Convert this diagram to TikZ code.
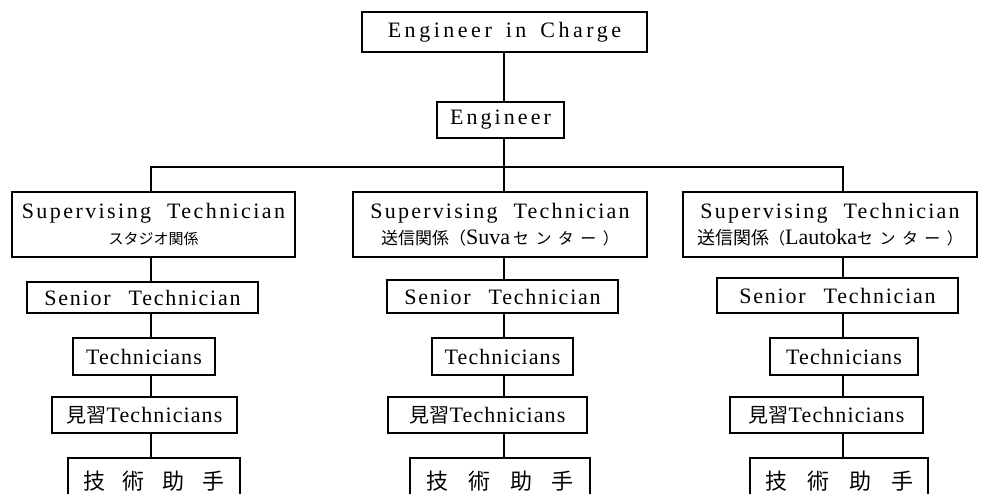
\documentclass[tikz,border=0pt]{standalone}
\usepackage{fontspec}
\setmainfont{Liberation Serif}
\newfontfamily\jp{Noto Sans CJK JP}
\newcommand{\LS}[1]{\addfontfeature{LetterSpace=#1}}
\begin{document}
\begin{tikzpicture}[x=1pt,y=-1pt,
  box/.style={draw=black, line width=1.4pt, inner sep=0pt, align=center,
              font=\fontsize{22}{29}\selectfont},
  conn/.style={draw=black, line width=1.5pt}]
\useasboundingbox (0,0) rectangle (985,493);
\clip (0,0) rectangle (985,493);
% column coordinates
\coordinate (hub) at (504,167);
\coordinate (hL) at (151,167);
\coordinate (hR) at (843,167);
% top
\node[box, minimum width=285pt, minimum height=40pt] (eic) at (504.5,32)
  {\LS{16}Engineer\hspace{14pt}in\hspace{14pt}Charge};
\node[box, minimum width=127pt, minimum height=36pt] (eng) at (500.5,120)
  {\LS{14}Engineer};
% supervising
\node[box, minimum width=283pt, minimum height=65pt] (supL) at (153.5,224.5)
  {\LS{11}Supervising\hspace{16pt}Technician\\[-3pt]
   {\jp\fontsize{15}{16}\selectfont スタジオ関係\hspace{30pt}}};
\node[box, minimum width=294pt, minimum height=65pt] (supM) at (500,224.5)
  {\LS{10}Supervising\hspace{16pt}Technician\\[-3pt]
   {\jp\fontsize{17}{18}\selectfont 送信関係（}Suva\hspace{3pt}{\jp\fontsize{16}{18}\selectfont\addfontfeature{LetterSpace=40}センター）}};
\node[box, minimum width=294pt, minimum height=65pt] (supR) at (830,224.5)
  {\LS{10}Supervising\hspace{16pt}Technician\\[-3pt]
   {\jp\fontsize{18}{18}\selectfont 送信関係}{\jp\fontsize{16}{18}\selectfont（}Lautoka{\jp\fontsize{16}{18}\selectfont\addfontfeature{LetterSpace=40}センター）}};
% senior
\node[box, minimum width=231pt, minimum height=31pt] (senL) at (142.5,297.5)
  {\LS{8}Senior\hspace{18pt}Technician};
\node[box, minimum width=231pt, minimum height=33pt] (senM) at (502.5,296.5)
  {\LS{8}Senior\hspace{18pt}Technician};
\node[box, minimum width=241pt, minimum height=35pt] (senR) at (837.5,295.5)
  {\LS{8}Senior\hspace{18pt}Technician};
% technicians
\node[box, minimum width=142pt, minimum height=37pt] (tecL) at (144,356.5)
  {\LS{5}Technicians};
\node[box, minimum width=141pt, minimum height=37pt] (tecM) at (502.5,356.5)
  {\LS{5}Technicians};
\node[box, minimum width=148pt, minimum height=37pt] (tecR) at (844,356.5)
  {\LS{5}Technicians};
% trainees
\node[box, minimum width=185pt, minimum height=36pt] (miL) at (144.5,415)
  {{\jp\fontsize{20}{22}\selectfont 見習}\LS{5}Technicians};
\node[box, minimum width=199pt, minimum height=36pt] (miM) at (487.5,415)
  {{\jp\fontsize{20}{22}\selectfont 見習}\LS{5}Technicians};
\node[box, minimum width=193pt, minimum height=36pt] (miR) at (826.5,415)
  {{\jp\fontsize{20}{22}\selectfont 見習}\LS{5}Technicians};
% assistants (cut off at the bottom)
\node[box, minimum width=172pt, minimum height=50pt] (gjL) at (154,483)
  {\raisebox{6pt}{\jp\fontsize{22}{24}\selectfont 技\hspace{18pt}術\hspace{18pt}助\hspace{18pt}手}};
\node[box, minimum width=180pt, minimum height=50pt] (gjM) at (500,483)
  {\raisebox{6pt}{\jp\fontsize{22}{24}\selectfont 技\hspace{20pt}術\hspace{20pt}助\hspace{20pt}手}};
\node[box, minimum width=178pt, minimum height=50pt] (gjR) at (839,483)
  {\raisebox{6pt}{\jp\fontsize{22}{24}\selectfont 技\hspace{20pt}術\hspace{20pt}助\hspace{20pt}手}};
% connectors
\draw[conn] (eic.south -| hub) -- (eng.north -| hub);
\draw[conn] (eng.south -| hub) -- (hub);
\draw[conn] (supL.north -| hL) -- (hL) -- (hR) -- (supR.north -| hR);
\draw[conn] (hub) -- (supM.north -| hub);
\foreach \c/\s in {hL/L, hub/M, hR/R} {
  \draw[conn] (sup\s.south -| \c) -- (sen\s.north -| \c);
  \draw[conn] (sen\s.south -| \c) -- (tec\s.north -| \c);
  \draw[conn] (tec\s.south -| \c) -- (mi\s.north -| \c);
  \draw[conn] (mi\s.south -| \c) -- (gj\s.north -| \c);
}
\end{tikzpicture}
\end{document}
